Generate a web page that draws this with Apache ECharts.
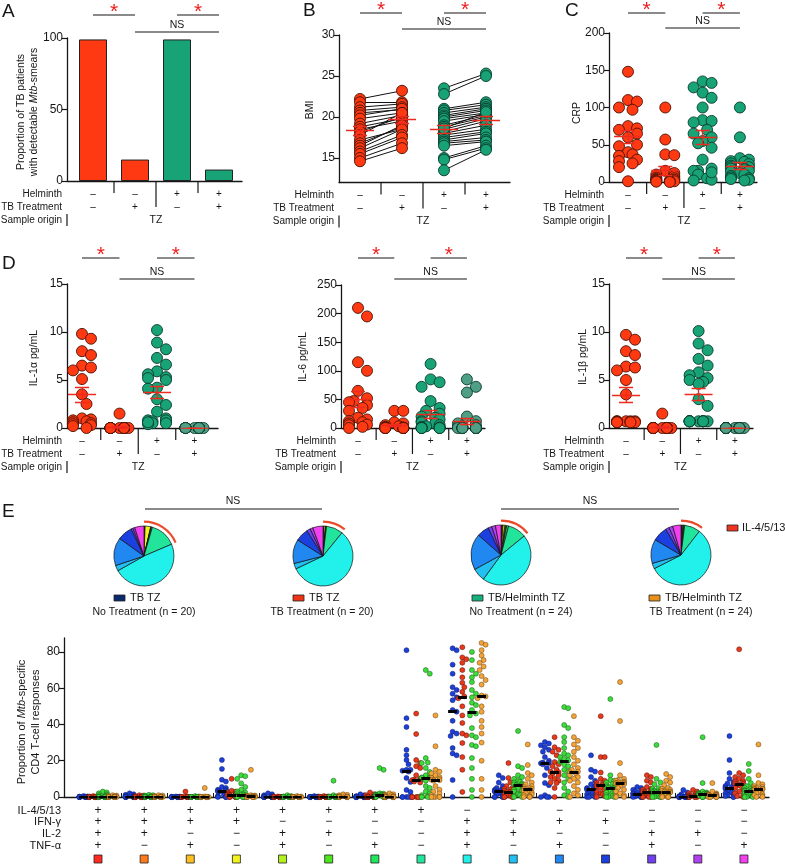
<!DOCTYPE html>
<html><head><meta charset="utf-8">
<script src="https://cdn.jsdelivr.net/npm/echarts@6/dist/echarts.min.js"></script>
<style>html,body{margin:0;padding:0;background:#fff}#c{width:785px;height:866px}</style>
</head><body><div id="c"></div>
<script>
// ================= DATA =================
const helminthRow = ['–','–','+','+'];
const treatmentRow = ['–','+','–','+'];
const sampleOrigin = 'TZ';

// A: proportion smear positive
const smearPositive = [99, 15, 99, 8];

// B: BMI paired
const bmiTbBefore = [22.2,21.8,21.2,20.8,20.5,20.2,19.8,19.2,18.8,18.5,18.2,17.8,17.2,16.8,16.5,16.2,15.8,15.5,15.0,14.6];
const bmiTbAfter  = [23.2,21.8,21.6,21.2,20.9,21.0,20.5,20.2,19.8,19.5,20.0,20.5,18.5,18.8,19.0,18.5,17.8,17.5,16.8,16.2];
const bmiHelBefore = [23.5,22.8,21.0,20.8,20.5,20.2,20.0,19.8,19.5,19.0,18.8,18.5,18.2,18.0,17.8,17.5,17.2,17.0,16.8,16.5,15.0,14.8,13.5,18.6];
const bmiHelAfter  = [25.3,25.0,21.8,21.5,21.2,21.0,20.8,20.5,20.3,20.2,20.0,19.8,19.5,19.0,18.5,18.2,18.0,17.5,17.2,17.0,16.5,16.2,16.0,20.6];

// C: CRP
const crpG1 = [148,110,108,100,97,75,72,70,65,60,50,48,40,37,35,30,28,25,20,1];
const crpG2 = [100,57,37,36,15,12,10,8,6,5,4,3,3,2,2,1,1,1,0.5,0];
const crpG3 = [135,133,127,120,113,100,83,82,80,70,65,60,55,52,46,30,18,15,15,10,5,3,2,13];
const crpG4 = [100,60,32,30,28,27,25,24,22,20,20,18,18,17,15,14,12,10,8,6,5,4,3,2];

// D: cytokines
const il1aG1 = [9.8,9.3,8.0,7.6,6.5,6.3,6.0,5.1,3.5,2.5,1.0,0.9,0.8,0.7,0.6,0.5,0.4,0.3,0.2,0.0];
const il1aG2 = [1.5,0,0,0,0,0,0,0,0,0,0,0,0,0,0,0,0,0,0,0];
const il1aG3 = [10.2,8.9,8.2,7.3,6.6,5.9,5.6,5.3,5.2,5.0,4.2,4.1,3.0,2.4,1.7,1.0,0.8,0.7,0.6,0.5,0.4,0.8,0.6,0.5];
const il1aG4 = [0,0,0,0,0,0,0,0,0,0,0,0,0,0,0,0,0,0,0,0,0,0,0,0];
const il6G1 = [210,195,115,100,65,52,47,45,40,35,30,18,15,12,10,8,6,5,2,0];
const il6G2 = [30,30,10,8,5,3,2,1,1,0,0,0,0,0,0,0,0,0,0,0];
const il6G3 = [112,85,80,72,47,35,30,25,20,18,15,12,10,8,5,3,2,1,0,0,0,0,0,0];
const il6G4 = [85,72,62,20,12,8,5,3,2,0,0,0,0,0,0,0,0,0,0,0,0,0,0,0];
const il1bG1 = [9.7,9.2,8.0,7.6,6.4,6.3,6.0,5.0,3.5,0.7,0.7,0.7,0.7,0.7,0.6,0.6,0.6,0.6,0.6,0.6];
const il1bG2 = [1.5,0,0,0,0,0,0,0,0,0,0,0,0,0,0,0,0,0,0,0];
const il1bG3 = [10.1,8.8,8.1,7.2,6.5,5.8,5.5,5.2,5.0,4.8,4.6,3.0,2.3,0.7,0.7,0.7,0.7,0.7,0.7,0.7,0.7,0.7,0.7,0.7];
const il1bG4 = [0,0,0,0,0,0,0,0,0,0,0,0,0,0,0,0,0,0,0,0,0,0,0,0];

// E: rows (IL-4/5/13, IFN-γ, IL-2, TNF-α)
const rowIL4 = ['+','+','+','+','+','+','+','+','−','−','−','−','−','−','−'];
const rowIFN = ['+','+','+','+','−','−','−','−','+','+','+','+','−','−','−'];
const rowIL2 = ['+','+','−','−','+','+','−','−','+','+','−','−','+','+','−'];
const rowTNF = ['+','−','+','−','+','−','+','−','+','−','+','−','+','−','+'];
const rowNames = ['IL-4/5/13','IFN-γ','IL-2','TNF-α'];
const eTicks = [0,20,40,60,80];

// pie fractions (%) per function category
const pieTbNoTx  = [0.2,0.2,0.2,3,0.2,0.2,0.5,14,48,3,15,8,1,1,5];
const pieTbTx    = [0.2,0.2,0.2,0.8,0.1,0.1,0.3,9,57,3,13,7,2,1.5,5.5];
const pieHelNoTx = [0.5,0.3,0.3,1,0.5,0.5,1,10,46,7,19.5,6.5,2,2,3];
const pieHelTx   = [0.2,0.2,0.2,0.5,0.2,0.2,0.5,8.5,57,3,13,8,2,2,4.5];

// scatter values per category (15) per group
const eBlue = [
 [0.5,0.3,0.2,0.2,0.1,0.1,0,0,0,0, 0,0,0,0,0,0,0,0,0,0],
 [2,1.5,1.2,1,0.8,0.5,0.3,0.2,0,0, 0,0,0,0,0,0,0,0,0,0],
 [0.3,0.2,0.1,0,0,0,0,0,0,0, 0,0,0,0,0,0,0,0,0,0],
 [20.4,15.5,9.5,8.5,5.5,5,4,3.8,3.5,3.4, 3.2,3,2.5,1,0.5,0.3,0,0,0,0],
 [2,1.5,1,0.5,0.3,0,0,0,0,0, 0,0,0,0,0,0,0,0,0,0],
 [0.5,0.3,0,0,0,0,0,0,0,0, 0,0,0,0,0,0,0,0,0,0],
 [1.5,1,0.5,0,0,0,0,0,0,0, 0,0,0,0,0,0,0,0,0,0],
 [81,43.5,38.6,26,23,20.4,18,15,15,14.5, 14,10.5,8.3,3.9,2.8,0,0,0,0,0],
 [82,81,73,68,60.6,59,57,55,53.4,48, 47,42,36,35,33.6,27,24,23,9.4,0],
 [12,10.5,8,6,5,4.5,4,3.5,3.4,3.3, 3.2,3,2,1.5,1,0.5,0,0,0,0],
 [30.3,29.5,28.5,27.5,26,25,22,20,19,18.8, 18.6,18,16,12,7.7,6.5,1,0,0,0],
 [23,15,14,11,9,7,6,5,4.6,4.5, 4.3,4,3,2,1.5,1,0.5,0,0,0],
 [5.5,5,4,3.5,3,2.5,2,1.8,1.7,1.7, 1.6,1.5,1,0.8,0.5,0.3,0,0,0,0],
 [3.9,2.5,1.5,1,0.5,0.3,0.2,0.1,0,0, 0,0,0,0,0,0,0,0,0,0],
 [33.6,20.4,13.2,10,8.3,7.5,6.5,6,5.5,5.1, 4.9,4.5,3.5,2.5,2,1.5,1,0.5,0,0]
];
const eRed = [
 [0.5,0.3,0.2,0,0,0,0,0,0,0, 0,0,0,0,0,0,0,0,0,0],
 [1,0.8,0.5,0.3,0,0,0,0,0,0, 0,0,0,0,0,0,0,0,0,0],
 [3,0.3,0,0,0,0,0,0,0,0, 0,0,0,0,0,0,0,0,0,0],
 [10,3.5,3,2.5,2,1.8,1.5,1.2,1,1, 1,0.8,0.5,0.3,0,0,0,0,0,0],
 [0.3,0,0,0,0,0,0,0,0,0, 0,0,0,0,0,0,0,0,0,0],
 [0.5,0.3,0,0,0,0,0,0,0,0, 0,0,0,0,0,0,0,0,0,0],
 [2.5,1.5,1,0.5,0,0,0,0,0,0, 0,0,0,0,0,0,0,0,0,0],
 [46,34.7,20.4,18.7,17,16,12,10,9.5,9.4, 9.3,8.5,8,0,0,0,0,0,0,0],
 [82.6,77,76,74,70,66,63,60.6,58,55.5, 54.5,50,45,40.8,35,34,29.8,22,15,2.8],
 [18.7,10.5,8,6,5,4.5,4,3.5,3,2.9, 2.7,2.5,2,1.5,1,0.5,0,0,0,0],
 [33,27.5,26,25,23,19.3,18,17,15,14, 13.6,13,12,11,10,9,8,7.7,5,0],
 [44.6,22,22,13.5,10,9,8,7.5,7,6.8, 6.4,6,5,4,3,2,1.5,1,0.5,0],
 [12,11,9,8,5.5,4.5,4,3.5,3,2.9, 2.7,2.5,2,1.5,1,0.5,0,0,0,0],
 [3.9,3,2,1.5,1,0.8,0.6,0.5,0.5,0.5, 0.5,0.3,0.2,0,0,0,0,0,0,0],
 [81.5,13.2,12,11,10,9,8.5,8,7.5,7.3, 7.1,6.5,6,5,4,3,2,1,0.5,0]
];
const eGreen = [
 [3,2.5,2,1.5,1,1,0.5,0.5,0.3,0.2, 0,0,0,0,0,0,0,0,0,0, 0,0,0,0],
 [1.2,1,0.8,0.5,0.3,0,0,0,0,0, 0,0,0,0,0,0,0,0,0,0, 0,0,0,0],
 [0.5,0.3,0,0,0,0,0,0,0,0, 0,0,0,0,0,0,0,0,0,0, 0,0,0,0],
 [12,11.5,10,7.5,5.5,4,3,2.5,2,1.5, 1.2,1,1,0.8,0.5,0.3,0,0,0,0, 0,0,0,0],
 [1,0.5,0.3,0,0,0,0,0,0,0, 0,0,0,0,0,0,0,0,0,0, 0,0,0,0],
 [9,1,0.5,0.3,0,0,0,0,0,0, 0,0,0,0,0,0,0,0,0,0, 0,0,0,0],
 [16,15,2,1.8,1.5,1.5,1.2,1.2,1.1,1, 1,1,1,0.8,0.5,0.5,0.3,0.2,0,0, 0,0,0,0],
 [70,68,21.5,19,18.7,16,13.8,12,11,10.8, 10.5,10.5,10.4,9,6,5,3,2,1,0.5, 0,0,0,0],
 [80,75.5,70,68,66,63.4,59,57,55,52, 50.7,48,46,45,38,34,33,28.7,28,21.5, 16,10,3.9,0],
 [36.4,17,16,12,11,10,9,8.5,8,7.5, 7,6.8,6.4,6,5,4,3.5,3,2,1.5, 1,0.5,0,0],
 [49.6,49,39.7,38,33,30.3,27,24,23,22, 21,20.2,19.5,18,17,15,14,12,10,8, 5,3,1,0],
 [54,12,9.4,9,8,7,6.5,6,5.5,5.3, 5.1,5,5,4.5,4,3,2.5,2,1.5,1, 0.5,0,0,0],
 [28.7,10,8,7,5,4.5,4,3.5,3.2,3, 3,2.9,2.7,2.5,2,1.5,1,0.8,0.5,0.3, 0,0,0,0],
 [33,7.7,3,2.5,2.2,2,2,1.9,1.8,1.8, 1.7,1.7,1.7,1.5,1.2,1,0.8,0.5,0.3,0, 0,0,0,0],
 [18.2,14.3,10,7.7,6,5.5,5,4.5,4,3.8, 3.5,3.4,3.2,3,2.5,2,1.5,1,0.8,0.5, 0.3,0,0,0]
];
const eOrange = [
 [1,0.8,0.5,0.5,0.3,0.2,0,0,0,0, 0,0,0,0,0,0,0,0,0,0, 0,0,0,0],
 [1,0.8,0.5,0.3,0.2,0,0,0,0,0, 0,0,0,0,0,0,0,0,0,0, 0,0,0,0],
 [5,0.3,0,0,0,0,0,0,0,0, 0,0,0,0,0,0,0,0,0,0, 0,0,0,0],
 [15,1,0.8,0.5,0.5,0.5,0.5,0.5,0.5,0.5, 0.5,0.5,0.5,0.3,0.2,0,0,0,0,0, 0,0,0,0],
 [0.5,0.3,0,0,0,0,0,0,0,0, 0,0,0,0,0,0,0,0,0,0, 0,0,0,0],
 [1.5,1.2,1,0.5,0.3,0,0,0,0,0, 0,0,0,0,0,0,0,0,0,0, 0,0,0,0],
 [2,1.5,1.2,1,0.8,0.5,0.3,0,0,0, 0,0,0,0,0,0,0,0,0,0, 0,0,0,0],
 [88,45,28,15,14,13,12,11,10.5,10, 9.6,9.5,9.3,9,6,4,3,2,1,0, 0,0,0,0],
 [85,84,81,78,75.5,74,72,70,66.7,64.5, 62,56,55.5,54.5,50,47,42,38.6,35,30, 20,10,3.9,0],
 [29,17.6,13.2,12,10,8,7,6,5.5,5, 4.6,4.5,4.3,4,3.5,3,2.5,2,1.5,1, 0.5,0,0,0],
 [44.6,33,31,29,27,25,22,20,18,16, 15,14,13.6,13,12,11,10,9,8,6, 4,2,1,0],
 [63.4,41.9,18.7,12,10,9.4,9,8.5,8,7.9, 7.8,7.7,7.6,7.5,7,6,5,4,3,2, 1,0.5,0,0],
 [12.7,11,9,8,6.5,5,4.5,4,3.5,3.2, 3,2.9,2.7,2.5,2,1.5,1,0.8,0.5,0.3, 0,0,0,0],
 [7.7,3,2,1.5,1.4,1.3,1.2,1.1,1.1,1, 1,1,1,0.9,0.8,0.5,0.3,0.2,0,0, 0,0,0,0],
 [29,12,7.7,7,6,5.5,5,4.8,4.6,4.5, 4.5,4.4,4.3,4.2,4,3.5,3,2.5,2,1.5, 1,0.5,0,0]
];

// ================= STYLE / LAYOUT =================
const FONT = "'Liberation Sans', Arial, Helvetica, sans-serif";
const INK = '#161616';
const RED = '#ff3a12', RED_B = '#4a1206';
const GRN = '#17a376', GRN_B = '#0a3a2a', GRN_L = '#4f9e86';
const MEAN = '#ee2a1e';
const catColors = ['#ff2a1f','#ff7a1a','#ffc01f','#f2f21f','#b3f21f','#4ce61f','#1fe65a','#22e49a','#22f0ea','#22c0f0','#2088f0','#1c40e0','#7040f0','#b040f0','#f040f0'];

const geo = {
  A:  {left:67,  right:242, top:38,  bottom:181,   c1:93,  s:42,    ymin:0,  ymax:100},
  B:  {left:339, right:510, top:35,  bottom:182.6, c1:360, s:42,    ymin:12, ymax:30},
  C:  {left:609, right:757, top:33,  bottom:182,   c1:628, s:37.3,  ymin:0,  ymax:200},
  D1: {left:67,  right:218, top:284, bottom:428,   c1:82,  s:37.5,  ymin:0,  ymax:15},
  D2: {left:341, right:485, top:285, bottom:428,   c1:358, s:36.3,  ymin:0,  ymax:250},
  D3: {left:609, right:753, top:284, bottom:428,   c1:626, s:36.3,  ymin:0,  ymax:15},
  E:  {left:64,  right:769, top:638, bottom:797,   c1:98,  s:46.14, ymin:0,  ymax:87.7}
};
const keys = ['A','B','C','D1','D2','D3','E'];
const PX = (k,v)=>geo[k].c1 + (v-1)*geo[k].s;
const PY = (k,v)=>{const g=geo[k];return g.bottom-(v-g.ymin)/(g.ymax-g.ymin)*(g.bottom-g.top);};

const yTicks = {A:{interval:50},B:{custom:[15,20,25,30]},C:{interval:50},D1:{interval:5},D2:{interval:50},D3:{interval:5},E:{custom:eTicks}};

const grids = keys.map(k=>{const g=geo[k];return {left:g.left,top:g.top,width:g.right-g.left,height:g.bottom-g.top};});
const xAxes = keys.map((k,i)=>{const g=geo[k];
  const ax={type:'value',gridIndex:i,min:1-(g.c1-g.left)/g.s,max:1+(g.right-g.c1)/g.s,
    axisLine:{onZero:false,lineStyle:{color:INK,width:1.3}},axisTick:{show:false},axisLabel:{show:false},splitLine:{show:false}};
  if(k==='E'){const cv=[];for(let j=1;j<15;j++)cv.push(j+0.5);
    ax.axisTick={show:true,inside:true,length:4,customValues:cv,lineStyle:{color:INK,width:1}};}
  return ax;});
const yAxes = keys.map((k,i)=>{const g=geo[k];const t=yTicks[k];
  const ax={type:'value',gridIndex:i,min:g.ymin,max:g.ymax,
    axisLine:{show:true,onZero:false,lineStyle:{color:INK,width:1.3}},
    axisTick:{show:true,length:5,lineStyle:{color:INK,width:1.2}},
    axisLabel:{fontSize:12,color:INK,fontFamily:FONT,margin:4},splitLine:{show:false}};
  if(t.interval){ax.interval=t.interval;}
  else {ax.axisTick.customValues=t.custom;ax.axisLabel.customValues=t.custom;}
  return ax;});

function swarm(ys,d,maxOff,step){
  const order=ys.map((y,i)=>i).sort((a,b)=>ys[a]-ys[b]);
  const cands=[0];for(let k=1;k*step<=maxOff+1e-6;k++)cands.push(k*step,-k*step);
  const placed=[],offs=new Array(ys.length).fill(0);
  for(const i of order){const y=ys[i];let best=0,bc=Infinity,bm=-1;
    for(const c of cands){let cnt=0,mn=Infinity;
      for(const p of placed){const dd=Math.hypot(p[0]-c,p[1]-y);if(dd<d*0.92)cnt++;if(dd<mn)mn=dd;}
      if(cnt===0){best=c;bc=0;break;}
      if(cnt<bc||(cnt===bc&&mn>bm)){bc=cnt;bm=mn;best=c;}}
    offs[i]=best;placed.push([best,y]);}
  return offs;}
function meanSE(a){const n=a.length;const m=a.reduce((s,v)=>s+v,0)/n;const sd=Math.sqrt(a.reduce((s,v)=>s+(v-m)*(v-m),0)/(n-1));return [m,sd/Math.sqrt(n)];}
function median(a){const s=[...a].sort((x,y)=>x-y);const n=s.length;return n%2?s[(n-1)/2]:(s[n/2-1]+s[n/2])/2;}

const series=[];
const gi = k=>keys.indexOf(k);
function dots(k,col,vals,color,border,size,jit){
  const g=geo[k];const offs=jit?swarm(vals.map(v=>PY(k,v)),size,jit[0],jit[1]):vals.map(()=>0);
  series.push({type:'scatter',xAxisIndex:gi(k),yAxisIndex:gi(k),symbolSize:size,silent:true,z:3,
    data:vals.map((v,i)=>[col+offs[i]/g.s,v]),itemStyle:{color,borderColor:border,borderWidth:size>6?0.9:0.5,opacity:1}});}
function segs(k,list,color,width,z){
  series.push({type:'lines',coordinateSystem:'cartesian2d',xAxisIndex:gi(k),yAxisIndex:gi(k),polyline:false,silent:true,z,
    lineStyle:{color,width,opacity:1,type:'solid'},data:list.map(c=>({coords:c}))});}
function meanSegs(k,col,vals){const g=geo[k];const [m,se]=meanSE(vals);const w=14/g.s,c=7/g.s;
  return [[[col-w,m],[col+w,m]],[[col,m-se],[col,m+se]],[[col-c,m-se],[col+c,m-se]],[[col-c,m+se],[col+c,m+se]]];}

// A bars
series.push({type:'bar',xAxisIndex:0,yAxisIndex:0,barWidth:28,silent:true,
  data:smearPositive.map((v,i)=>({value:[i+1,v],itemStyle:{color:i<2?RED:GRN,borderColor:'#222',borderWidth:1}}))});

// B paired
const pairSegs=[];
bmiTbBefore.forEach((v,i)=>pairSegs.push([[1,v],[2,bmiTbAfter[i]]]));
bmiHelBefore.forEach((v,i)=>pairSegs.push([[3,v],[4,bmiHelAfter[i]]]));
segs('B',pairSegs,'#111',1,1);
dots('B',1,bmiTbBefore,RED,RED_B,11,null);
dots('B',2,bmiTbAfter,RED,RED_B,11,null);
dots('B',3,bmiHelBefore,GRN,GRN_B,11,null);
dots('B',4,bmiHelAfter,GRN,GRN_B,11,null);
segs('B',[].concat(meanSegs('B',1,bmiTbBefore),meanSegs('B',2,bmiTbAfter),meanSegs('B',3,bmiHelBefore),meanSegs('B',4,bmiHelAfter)),MEAN,1.3,5);

// C & D beeswarm panels
const swarmPanels = [
  ['C',[crpG1,crpG2,crpG3,crpG4]],
  ['D1',[il1aG1,il1aG2,il1aG3,il1aG4]],
  ['D2',[il6G1,il6G2,il6G3,il6G4]],
  ['D3',[il1bG1,il1bG2,il1bG3,il1bG4]]];
swarmPanels.forEach(([k,gs])=>{
  gs.forEach((vals,j)=>{const col=j+1;
    const color=j<2?RED:(k!=='C'&&j===3?GRN_L:GRN);
    dots(k,col,vals,color,j<2?RED_B:GRN_B,11,[9,4.5]);});
  let ms=[];gs.forEach((vals,j)=>{ms=ms.concat(meanSegs(k,j+1,vals));});
  segs(k,ms,MEAN,1.3,5);
});

// E scatter
const eGroups=[
  {data:eBlue,color:'#1f40d8',border:'#0d1f70'},
  {data:eRed,color:'#e8391d',border:'#5a1408'},
  {data:eGreen,color:'#3ddc3d',border:'#175717'},
  {data:eOrange,color:'#f2a33a',border:'#6a4410'}];
const eOff=[-14.5,-4.8,4.8,14.5];
const medSegs=[];
eGroups.forEach((gr,gIdx)=>{
  const g=geo.E;const pts=[];
  gr.data.forEach((vals,ci)=>{const col=ci+1+eOff[gIdx]/g.s;
    const offs=swarm(vals.map(v=>PY('E',v)),5,4,2);
    vals.forEach((v,j)=>pts.push([col+offs[j]/g.s,v]));
    const m=median(vals);medSegs.push([[col-4.5/g.s,m],[col+4.5/g.s,m]]);});
  series.push({type:'scatter',xAxisIndex:6,yAxisIndex:6,symbolSize:5,silent:true,z:3,data:pts,
    itemStyle:{color:gr.color,borderColor:gr.border,borderWidth:0.5,opacity:1}});
});
segs('E',medSegs,'#000',3,6);

// Pies
const pies=[{c:[144,556],d:pieTbNoTx},{c:[323,556],d:pieTbTx},{c:[501,555],d:pieHelNoTx},{c:[681,555],d:pieHelTx}];
pies.forEach(p=>{
  series.push({type:'pie',center:p.c,radius:30,startAngle:90,clockwise:true,silent:true,label:{show:false},labelLine:{show:false},
    emphasis:{disabled:true},itemStyle:{borderColor:'#111',borderWidth:0.7},
    data:p.d.map((v,i)=>({value:v,itemStyle:{color:catColors[i]}}))});
  const il4=p.d.slice(0,8).reduce((a,b)=>a+b,0);const tot=p.d.reduce((a,b)=>a+b,0);
  series.push({type:'pie',center:p.c,radius:[33.2,35.4],startAngle:90,clockwise:true,silent:true,label:{show:false},labelLine:{show:false},
    emphasis:{disabled:true},itemStyle:{borderWidth:0},
    data:[{value:il4,itemStyle:{color:'#ec4a2c'}},{value:tot-il4,itemStyle:{color:'rgba(0,0,0,0)'}}]});
});

// ================= GRAPHICS (text, brackets) =================
const G=[];
function T(x,y,text,o={}){const st={text,fill:o.fill||INK,fontSize:o.size||10,fontFamily:FONT,fontWeight:o.weight||'normal',
  align:o.align||'center',verticalAlign:o.va||'middle',textAlign:o.align||'center',textVerticalAlign:o.va||'middle'};
  if(o.rich)st.rich=o.rich;
  G.push({type:'text',x,y,rotation:o.rot||0,silent:true,z:100,style:st});}
function L(x1,y1,x2,y2,w,c){G.push({type:'line',silent:true,z:100,shape:{x1,y1,x2,y2},style:{stroke:c||INK,lineWidth:w||1}});}
function R(x,y,w,h,fill){G.push({type:'rect',silent:true,z:100,shape:{x,y,width:w,height:h},style:{fill,stroke:'#222',lineWidth:0.8}});}

// panel letters
T(2,12,'A',{size:19,align:'left'});T(303,11,'B',{size:19,align:'left'});T(565,11,'C',{size:19,align:'left'});
T(2,264,'D',{size:19,align:'left'});T(2,512,'E',{size:19,align:'left'});

// tables under A-D
['A','B','C','D1','D2','D3'].forEach(k=>{const g=geo[k];const b=g.bottom;
  const rows=[b+13,b+26,b+39];
  T(g.left-5,rows[0],'Helminth',{align:'right'});
  T(g.left-5,rows[1],'TB Treatment',{align:'right'});
  T(g.left-5,rows[2],'Sample origin',{align:'right'});
  for(let j=0;j<4;j++){T(PX(k,j+1),rows[0],helminthRow[j]);T(PX(k,j+1),rows[1],treatmentRow[j]);}
  T(PX(k,2.5),rows[2],sampleOrigin,{size:10.5});
  L(PX(k,1.5),b,PX(k,1.5),b+12,1.2);L(PX(k,3.5),b,PX(k,3.5),b+12,1.2);L(PX(k,2.5),b,PX(k,2.5),b+26,1.2);
  L(g.left,b+33,g.left,b+45,1.2);
});
// brackets
function brackets(k,sy,ny){
  L(PX(k,1),sy,PX(k,2),sy,1.2);L(PX(k,3),sy,PX(k,4),sy,1.2);
  T((PX(k,1)+PX(k,2))/2,sy-3,'*',{size:21,fill:'#ee1c1c'});
  T((PX(k,3)+PX(k,4))/2,sy-3,'*',{size:21,fill:'#ee1c1c'});
  L(PX(k,2),ny,PX(k,4),ny,1.2);T((PX(k,2)+PX(k,4))/2,ny-7,'NS',{size:10.5});
}
brackets('A',15,32);brackets('B',13,29);brackets('C',13,28);
brackets('D1',258,279);brackets('D2',258,279);brackets('D3',258,279);

// axis titles
const rot=Math.PI/2;
T(21,112,'Proportion of TB patients',{rot,size:10.5});
T(34,112,'with detectable {i|Mtb}-smears',{rot,size:10.5,rich:{i:{fontStyle:'italic',fontSize:10.5,fontFamily:FONT,fill:INK}}});
T(310,110,'BMI',{rot,size:10.5});T(577,113,'CRP',{rot,size:10.5});
T(34,358,'IL-1α pg/mL',{rot,size:10.5});T(303,357,'IL-6 pg/mL',{rot,size:10.5});T(583,357,'IL-1β pg/mL',{rot,size:10.5});
T(22,722,'Proportion of {i|Mtb}-specific',{rot,size:11,rich:{i:{fontStyle:'italic',fontSize:11,fontFamily:FONT,fill:INK}}});
T(36,722,'CD4 T-cell responses',{rot,size:11});

// E header
L(145,509,322,509,1.2);T(233,501,'NS',{size:10.5});L(501,509,679,509,1.2);T(590,501,'NS',{size:10.5});
R(727,525,11,6,'#ee3322');T(742,528,'IL-4/5/13',{align:'left',size:11});
const legends=[
  {sq:114,tx:130,c2:144,name:'TB TZ',sub:'No Treatment (n = 20)',col:'#0b2a6e'},
  {sq:293,tx:309,c2:322,name:'TB TZ',sub:'TB Treatment (n = 20)',col:'#f03418'},
  {sq:472,tx:488,c2:521,name:'TB/Helminth TZ',sub:'No Treatment (n = 24)',col:'#16b07c'},
  {sq:649,tx:665,c2:701,name:'TB/Helminth TZ',sub:'TB Treatment (n = 24)',col:'#e8901a'}];
legends.forEach(l=>{R(l.sq,595,11,6,l.col);T(l.tx,598,l.name,{align:'left',size:11});T(l.c2,612,l.sub,{size:10.5});});

// E row labels
const rowY=[811,822,834,846];const rowsE=[rowIL4,rowIFN,rowIL2,rowTNF];
rowNames.forEach((n,r)=>T(61,rowY[r],n,{align:'right',size:11}));
rowsE.forEach((row,r)=>row.forEach((s,ci)=>T(PX('E',ci+1),rowY[r],s,{size:12})));
catColors.forEach((c,ci)=>R(PX('E',ci+1)-4,855,8,8,c));

// ================= CHART =================
const chart=echarts.init(document.getElementById('c'),null,{renderer:'canvas',width:785,height:866});
chart.setOption({
  animation:false,
  textStyle:{fontFamily:FONT},
  grid:grids,xAxis:xAxes,yAxis:yAxes,series,
  graphic:{elements:G}
});
</script></body></html>
